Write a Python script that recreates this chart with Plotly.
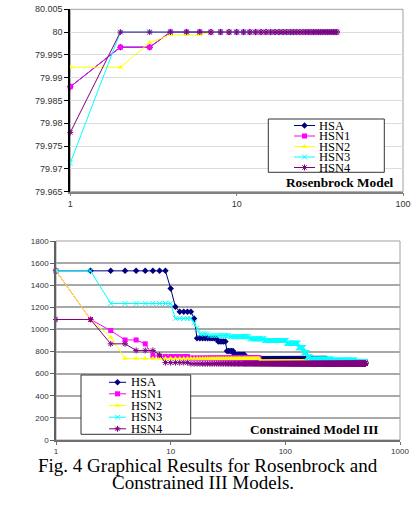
import plotly.graph_objects as go

W, H = 415, 507

names = ["HSA", "HSN1", "HSN2", "HSN3", "HSN4"]
colors = ["#000080", "#FF00FF", "#FFFF00", "#00FFFF", "#800080"]
symbols = ["diamond", "square", "triangle-up", "x-thin-open", "asterisk-open"]

# ---------------- Rosenbrock model (top) ----------------
# step data: iteration where value starts, value
ros_last_iter = 40
ros_hsa_start = [1, 2, 4]
ros_hsa_val = [79.988, 79.9967, 80.0]
ros_hsn1_start = [1, 2, 4]
ros_hsn1_val = [79.988, 79.9967, 80.0]
ros_hsn2_start = [1, 3, 4, 7]
ros_hsn2_val = [79.9923, 79.9977, 79.9994, 80.0]
ros_hsn3_start = [1, 2]
ros_hsn3_val = [79.9713, 80.0]
ros_hsn4_start = [1, 2]
ros_hsn4_val = [79.978, 80.0]

ros_yticks = [79.965, 79.97, 79.975, 79.98, 79.985, 79.99, 79.995, 80.0, 80.005]
ros_ytext = ["79.965", "79.97", "79.975", "79.98", "79.985", "79.99", "79.995", "80", "80.005"]
ros_xticks = [1, 10, 100]

# ---------------- Constrained model III (bottom) ----------------
con_last_iter = 500
con_hsa_start = [1, 10, 11, 12, 16, 17, 26, 31, 36, 45, 56, 230]
con_hsa_val = [1530, 1370, 1205, 1160, 1100, 920, 890, 805, 770, 740, 732, 700]
con_hsn1_start = [1, 2, 3, 4, 6, 7, 8, 15, 60]
con_hsn1_val = [1530, 1090, 990, 905, 870, 765, 755, 742, 703]
con_hsn2_start = [1, 2, 3, 4, 60]
con_hsn2_val = [1530, 1090, 930, 738, 710]
con_hsn3_start = [1, 3, 11, 16, 17, 18, 22, 33, 49, 66, 103, 130, 145, 155, 165, 250, 400]
con_hsn3_val = [1530, 1235, 1100, 1060, 1010, 960, 945, 935, 915, 900, 875, 835, 790, 750, 730, 720, 710]
con_hsn4_start = [1, 3, 5, 8, 9, 15]
con_hsn4_val = [1090, 870, 810, 770, 700, 690]

con_yticks = [0, 200, 400, 600, 800, 1000, 1200, 1400, 1600, 1800]
con_xticks = [1, 10, 100, 1000]


def expand(starts, vals, last):
    xs, ys, j = [], [], 0
    for it in range(1, last + 1):
        while j + 1 < len(starts) and starts[j + 1] <= it:
            j += 1
        xs.append(it)
        ys.append(vals[j])
    return xs, ys


ros = [(ros_hsa_start, ros_hsa_val), (ros_hsn1_start, ros_hsn1_val), (ros_hsn2_start, ros_hsn2_val),
       (ros_hsn3_start, ros_hsn3_val), (ros_hsn4_start, ros_hsn4_val)]
con = [(con_hsa_start, con_hsa_val), (con_hsn1_start, con_hsn1_val), (con_hsn2_start, con_hsn2_val),
       (con_hsn3_start, con_hsn3_val), (con_hsn4_start, con_hsn4_val)]

fig = go.Figure()


def marker(i, size):
    m = dict(symbol=symbols[i], size=size, color=colors[i])
    if "open" in symbols[i]:
        m["line"] = dict(color=colors[i], width=1)
    else:
        m["line"] = dict(width=0)
    return m


for i, (s, v) in enumerate(ros):
    xs, ys = expand(s, v, ros_last_iter)
    fig.add_trace(go.Scatter(x=xs, y=ys, mode="lines+markers", name=names[i],
                             line=dict(color=colors[i], width=1), marker=marker(i, 5),
                             xaxis="x", yaxis="y", showlegend=False, cliponaxis=False))

for i, (s, v) in enumerate(con):
    xs, ys = expand(s, v, con_last_iter)
    fig.add_trace(go.Scatter(x=xs, y=ys, mode="lines+markers", name=names[i],
                             line=dict(color=colors[i], width=1), marker=marker(i, 5),
                             xaxis="x2", yaxis="y2", showlegend=False, cliponaxis=False))

# ---- manual legends on a pixel overlay axis ----
leg_top = dict(x0=294, x1=315, xm=304.5, xt=316.5, ys=[125.5, 136.0, 146.5, 157.0, 167.5], fs=12.5)
leg_bot = dict(x0=109, x1=126, xm=117.5, xt=128.5, ys=[382.3, 393.8, 405.5, 417.2, 428.8], fs=12.5)

shapes = []
annotations = []
for box, leg in (((268.3, 119, 384.3, 172.3), leg_top), ((81, 375, 190.7, 434.3), leg_bot)):
    shapes.append(dict(type="rect", xref="x3", yref="y3", x0=box[0], y0=box[1], x1=box[2], y1=box[3],
                       line=dict(color="#333333", width=1), fillcolor="white", layer="between"))
    for i, yy in enumerate(leg["ys"]):
        fig.add_trace(go.Scatter(x=[leg["x0"], leg["x1"]], y=[yy, yy], mode="lines",
                                 line=dict(color=colors[i], width=1), xaxis="x3", yaxis="y3",
                                 showlegend=False, hoverinfo="skip"))
        fig.add_trace(go.Scatter(x=[leg["xm"]], y=[yy], mode="markers", marker=marker(i, 5),
                                 xaxis="x3", yaxis="y3", showlegend=False, hoverinfo="skip"))
        annotations.append(dict(x=leg["xt"], y=yy, xref="x3", yref="y3", text=names[i], showarrow=False,
                                xanchor="left", yanchor="middle",
                                font=dict(family="Liberation Serif, Times New Roman, serif", size=leg["fs"], color="black")))

# plot-area borders
for xr, yr in (("x domain", "y domain"), ("x2 domain", "y2 domain")):
    shapes.append(dict(type="rect", xref=xr, yref=yr, x0=0, y0=0, x1=1, y1=1,
                       line=dict(color="#a0a0a0", width=1), layer="below"))

serif = "Liberation Serif, Times New Roman, serif"
annotations.append(dict(x=340.3 / W, y=1 - 182.3 / H, xref="paper", yref="paper",
                        text="<b>Rosenbrock Model</b>", showarrow=False, xanchor="center", yanchor="middle",
                        font=dict(family=serif, size=13.3, color="black")))
annotations.append(dict(x=314.5 / W, y=1 - 429 / H, xref="paper", yref="paper",
                        text="<b>Constrained Model III</b>", showarrow=False, xanchor="center", yanchor="middle",
                        font=dict(family=serif, size=13.3, color="black")))
annotations.append(dict(x=207.5 / W, y=1 - 465.5 / H, xref="paper", yref="paper",
                        text="Fig. 4 Graphical Results for Rosenbrock and", showarrow=False,
                        xanchor="center", yanchor="middle",
                        font=dict(family=serif, size=19, color="black")))
annotations.append(dict(x=203 / W, y=1 - 482.5 / H, xref="paper", yref="paper",
                        text="Constrained III Models.", showarrow=False,
                        xanchor="center", yanchor="middle",
                        font=dict(family=serif, size=19, color="black")))

tickfont_top = dict(family="Liberation Sans, Arial, sans-serif", size=9, color="#333333")
tickfont_bot = dict(family="Liberation Sans, Arial, sans-serif", size=8, color="#333333")

fig.update_layout(
    width=W, height=H,
    margin=dict(l=0, r=0, t=0, b=0, autoexpand=False),
    paper_bgcolor="white", plot_bgcolor="rgba(0,0,0,0)",
    showlegend=False,
    xaxis=dict(type="log", range=[0, 2], domain=[70.3 / W, 403 / W], anchor="y", automargin=False,
               tickvals=ros_xticks, ticktext=[str(v) for v in ros_xticks],
               showgrid=False, zeroline=False, showline=True, linecolor="#808080", linewidth=1.5,
               ticks="outside", ticklen=3, tickcolor="#808080", tickfont=tickfont_top),
    yaxis=dict(range=[79.965, 80.005], domain=[1 - 191.7 / H, 1 - 9.3 / H], anchor="x", automargin=False,
               tickvals=ros_yticks, ticktext=ros_ytext,
               showgrid=True, gridcolor="#dcdcdc", gridwidth=1, zeroline=False,
               showline=True, linecolor="black", linewidth=2,
               ticks="outside", ticklen=4, tickcolor="black", tickfont=tickfont_top),
    xaxis2=dict(type="log", range=[0, 3], domain=[56 / W, 400 / W], anchor="y2", automargin=False,
                tickvals=con_xticks, ticktext=[str(v) for v in con_xticks],
                showgrid=False, zeroline=False, showline=True, linecolor="#707070", linewidth=1.5,
                ticks="outside", ticklen=3, tickcolor="#707070", tickfont=tickfont_bot),
    yaxis2=dict(range=[0, 1800], domain=[1 - 440 / H, 1 - 241 / H], anchor="x2", automargin=False,
                tickvals=con_yticks, ticktext=[str(v) for v in con_yticks],
                showgrid=True, gridcolor="#a8a8a8", gridwidth=1.5, zeroline=False,
                showline=True, linecolor="#606060", linewidth=1.5,
                ticks="outside", ticklen=4, tickcolor="#606060", tickfont=tickfont_bot),
    xaxis3=dict(range=[0, W], domain=[0, 1], anchor="y3", visible=False, fixedrange=True, automargin=False),
    yaxis3=dict(range=[H, 0], domain=[0, 1], anchor="x3", visible=False, fixedrange=True, automargin=False),
    shapes=shapes,
    annotations=annotations,
)

fig.write_html("out.html")
